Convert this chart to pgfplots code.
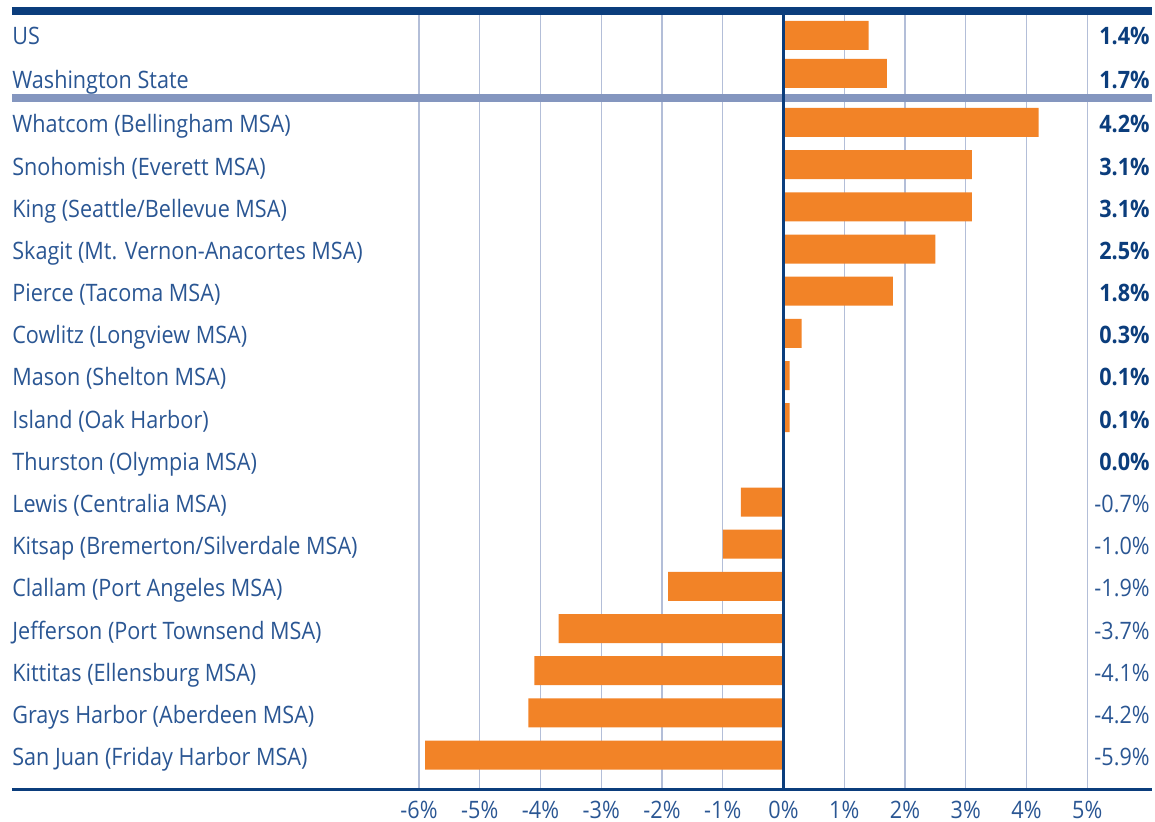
\documentclass[border=0pt]{standalone}
\usepackage{pgfplots}
\pgfplotsset{compat=1.18}
\usepackage{fontspec}
\setmainfont[FakeStretch=0.9]{Open Sans}
\definecolor{navy}{HTML}{0B3D7C}
\definecolor{txt}{HTML}{2A5693}
\definecolor{sepc}{HTML}{8496BF}
\definecolor{gridc}{HTML}{B3BED8}
\definecolor{barc}{HTML}{F28327}
\newcommand{\lab}[2]{\node[anchor=base west, inner sep=0pt, text=txt, font=\fontsize{12}{14}\selectfont] at (axis cs:-12.70,#1+1.5) {#2};}
\newcommand{\valb}[2]{\node[anchor=base east, inner sep=0pt, text=navy, font=\fontsize{12}{14}\selectfont\bfseries] at (axis cs:6.033,#1+1.5) {#2};}
\newcommand{\valr}[2]{\node[anchor=base east, inner sep=0pt, text=txt, font=\fontsize{12}{14}\selectfont] at (axis cs:6.033,#1+1.5) {#2};}
\begin{document}
\begin{tikzpicture}
\begin{axis}[name=ax, width=577.5pt, height=411pt, scale only axis,
  xmin=-12.897, xmax=6.115, ymin=0, ymax=822, y dir=reverse,
  axis line style={draw=none}, major tick length=0pt, tick style={draw=none},
  ytick=\empty, xtick={-6,...,5},
  xticklabels={-6\%,-5\%,-4\%,-3\%,-2\%,-1\%,0\%,1\%,2\%,3\%,4\%,5\%},
  xticklabel style={anchor=base, yshift=1.8pt, inner sep=0pt, font=\fontsize{12}{14}\selectfont, text=txt},
  clip=false]
\pgfplotsinvokeforeach{-6,...,5}{\draw[gridc, line width=0.6pt] (axis cs:#1,15) -- (axis cs:#1,788);}
\draw[navy, line width=4pt] (axis cs:-12.70,11) -- (axis cs:6.066,11);
\draw[sepc, line width=4pt] (axis cs:-12.70,98) -- (axis cs:6.066,98);
\draw[navy, line width=1.5pt] (axis cs:-12.70,789.5) -- (axis cs:6.066,789.5);
\addplot[xbar, bar width=29, bar shift=0pt, fill=barc, draw=none] coordinates {
(1.4,35.5) (1.7,73.5)
(4.2,122.5) (3.1,164.67) (3.1,206.84) (2.5,249.01) (1.8,291.18) (0.3,333.35)
(0.1,375.52) (0.1,417.69) (0.0,459.86) (-0.7,502.03) (-1.0,544.2) (-1.9,586.37)
(-3.7,628.54) (-4.1,670.71) (-4.2,712.88) (-5.9,755.05)};
\draw[navy, line width=1.25pt] (axis cs:0,11) -- (axis cs:0,789.5);
\lab{43}{US}
\lab{87}{Washington State}
\lab{131.5}{Whatcom (Bellingham MSA)}
\lab{173.7}{Snohomish (Everett MSA)}
\lab{215.8}{King (Seattle/Bellevue MSA)}
\lab{258.0}{Skagit (Mt. Vernon-Anacortes MSA)}
\lab{300.2}{Pierce (Tacoma MSA)}
\lab{342.4}{Cowlitz (Longview MSA)}
\lab{384.5}{Mason (Shelton MSA)}
\lab{426.7}{Island (Oak Harbor)}
\lab{468.9}{Thurston (Olympia MSA)}
\lab{511.0}{Lewis (Centralia MSA)}
\lab{553.2}{Kitsap (Bremerton/Silverdale MSA)}
\lab{595.4}{Clallam (Port Angeles MSA)}
\lab{637.5}{Jefferson (Port Townsend MSA)}
\lab{679.7}{Kittitas (Ellensburg MSA)}
\lab{721.9}{Grays Harbor (Aberdeen MSA)}
\lab{764.0}{San Juan (Friday Harbor MSA)}
\valb{43}{1.4\%}
\valb{87}{1.7\%}
\valb{131.5}{4.2\%}
\valb{173.7}{3.1\%}
\valb{215.8}{3.1\%}
\valb{258.0}{2.5\%}
\valb{300.2}{1.8\%}
\valb{342.4}{0.3\%}
\valb{384.5}{0.1\%}
\valb{426.7}{0.1\%}
\valb{468.9}{0.0\%}
\valr{511.0}{-0.7\%}
\valr{553.2}{-1.0\%}
\valr{595.4}{-1.9\%}
\valr{637.5}{-3.7\%}
\valr{679.7}{-4.1\%}
\valr{721.9}{-4.2\%}
\valr{764.0}{-5.9\%}
\end{axis}
\pgfresetboundingbox
\path (ax.south west) rectangle (ax.north east);
\end{tikzpicture}
\end{document}
